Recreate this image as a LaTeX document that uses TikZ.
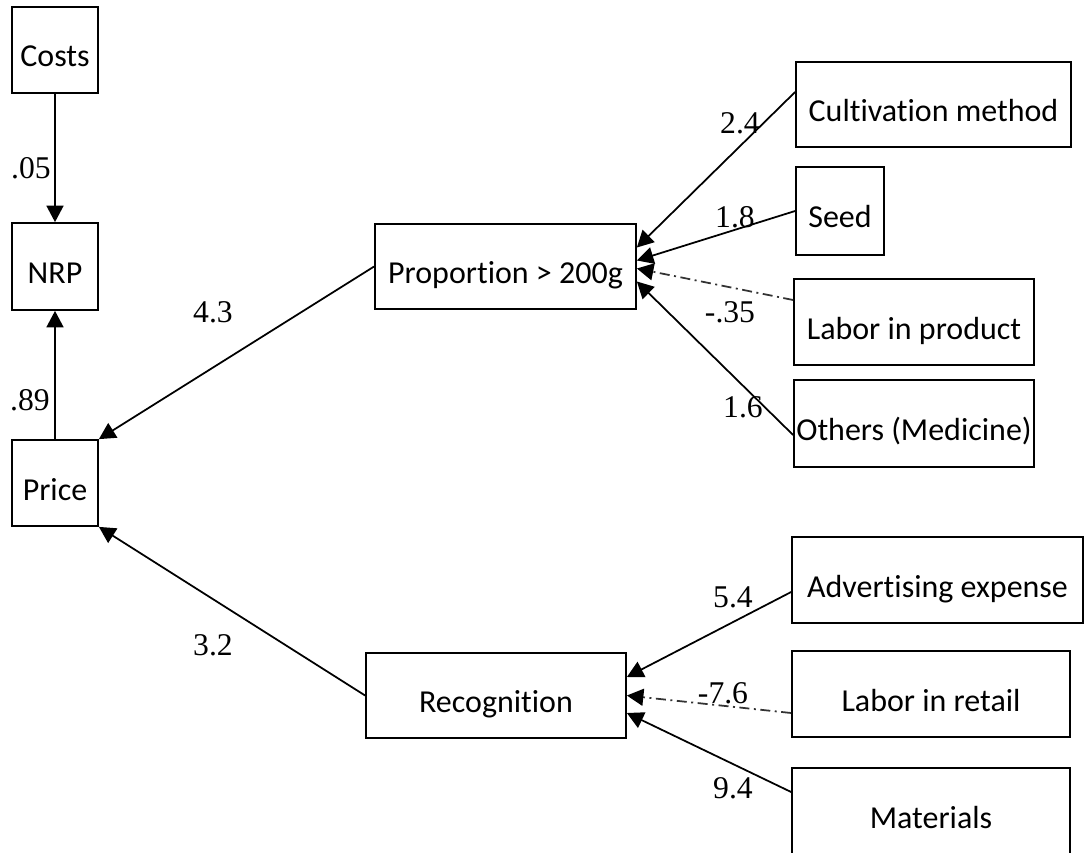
\documentclass[tikz,border=0pt]{standalone}
\usepackage{fontspec}
\setmainfont{Carlito}[Ligatures=NoCommon]
\newfontfamily\numfont{Liberation Serif}
\usetikzlibrary{arrows.meta}

\begin{document}
\begin{tikzpicture}[box/.style={draw,inner sep=0pt,text height=0.68cm,text depth=0cm,minimum height=1.72cm,font=\fontsize{18.2}{20}\selectfont},
    val/.style={inner sep=0pt,font=\numfont\fontsize{18}{20}\selectfont},
    neg/.style={color=black!80,dash pattern=on 0.2cm off 0.09cm on 0.04cm off 0.09cm},
    >={Triangle[length=0.33cm,width=0.34cm,color=black]}, line width=1pt]
    \useasboundingbox (0,0) rectangle (21.72,-17.04);

    % left column
    \node[box,minimum width=1.72cm] (costs) at (1.10,-1.00) {Costs};
    \node[box,minimum width=1.72cm,minimum height=1.74cm] (nrp) at (1.10,-5.33) {NRP};
    \node[box,minimum width=1.72cm] (price) at (1.10,-9.66) {Price};

    % middle
    \node[box,minimum width=5.22cm,minimum height=1.70cm] (prop) at (10.11,-5.33) {Proportion > 200g};
    \node[box,minimum width=5.20cm,minimum height=1.70cm] (recog) at (9.92,-13.91) {Recognition};

    % right column
    \node[box,minimum width=5.50cm,minimum height=1.70cm] (cult) at (18.67,-2.09) {Cultivation method};
    \node[box,minimum width=1.76cm,minimum height=1.76cm] (seed) at (16.80,-4.22) {Seed};
    \node[box,minimum width=4.80cm] (laborp) at (18.28,-6.44) {Labor in product};
    \node[box,minimum width=4.80cm,minimum height=1.74cm] (others) at (18.28,-8.47) {Others (Medicine)};
    \node[box,minimum width=5.82cm] (adv) at (18.75,-11.60) {Advertising expense};
    \node[box,minimum width=5.56cm] (laborr) at (18.62,-13.88) {Labor in retail};
    \node[box,minimum width=5.56cm] (mat) at (18.62,-16.22) {Materials};

    \draw[->] (costs) -- (nrp);
    \draw[->] (price) -- (nrp);
    \draw[->] (prop.west) -- (price.north east);
    \draw[->] (recog.west) -- (price.south east);

    \draw[->] ([yshift=0.25cm]cult.west) -- ([yshift=0.38cm]prop.east);
    \draw[->] (seed.west) -- ([yshift=0.12cm]prop.east);
    \draw[neg,->] ([yshift=0.44cm]laborp.west) -- ([yshift=-0.04cm]prop.east);
    \draw[->] ([yshift=-0.23cm]others.west) -- ([yshift=-0.30cm]prop.east);

    \draw[->] ([yshift=-0.24cm]adv.west) -- ([yshift=0.37cm]recog.east);
    \draw[neg,->] ([yshift=-0.38cm]laborr.west) -- (recog.east);
    \draw[->] ([yshift=0.38cm]mat.west) -- ([yshift=-0.35cm]recog.east);

    % coefficients
    \node[val] (v05) at (0.62,-3.36) {.05};
    \node[val] (v89) at (0.60,-8.00) {.89};
    \node[val] (v43) at (4.26,-6.24) {4.3};
    \node[val] (v32) at (4.26,-12.90) {3.2};
    \node[val] (v24) at (14.80,-2.46) {2.4};
    \node[val] (v18) at (14.70,-4.34) {1.8};
    \node[val] (v35) at (14.60,-6.24) {-.35};
    \node[val] (v16) at (14.86,-8.14) {1.6};
    \node[val] (v54) at (14.66,-11.94) {5.4};
    \node[val] (v76) at (14.46,-13.86) {-7.6};
    \node[val] (v94) at (14.66,-15.76) {9.4};
\end{tikzpicture}
\end{document}
